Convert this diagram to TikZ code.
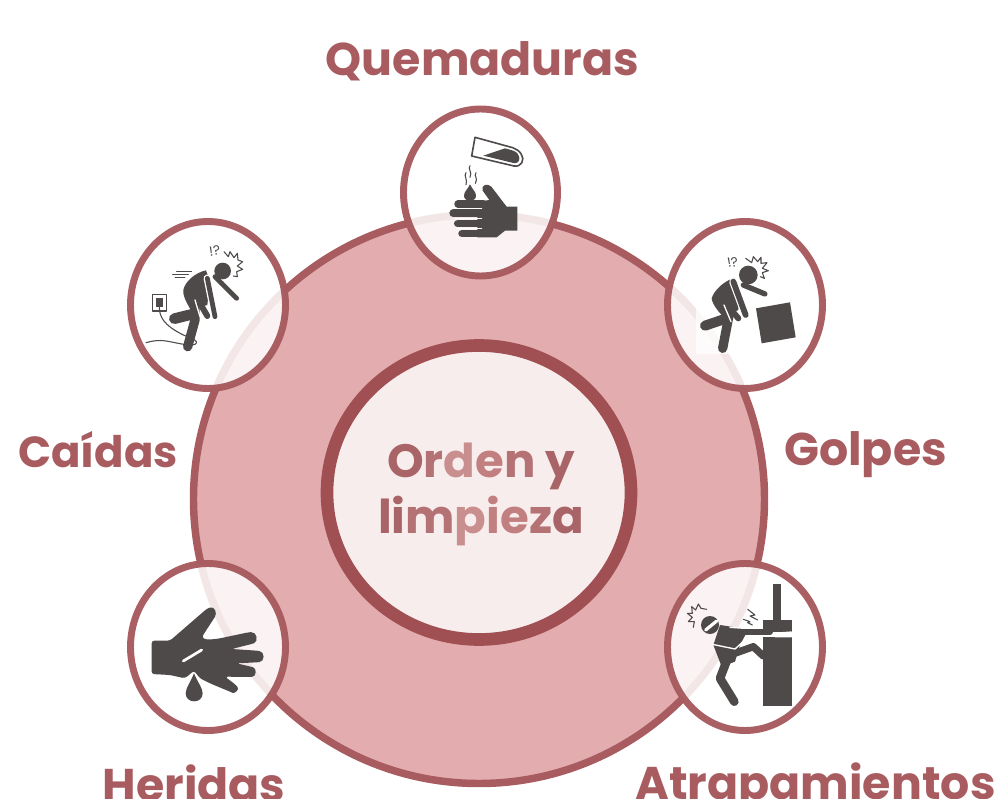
\documentclass[tikz,border=0pt]{standalone}
\usepackage{fontspec}
\setmainfont{Poppins}
\usetikzlibrary{calc}
\definecolor{ringc}{HTML}{A85C60}
\definecolor{bigfill}{HTML}{E3ADAF}
\definecolor{darkring}{HTML}{A04F52}
\definecolor{innerfill}{HTML}{F8EDED}
\definecolor{icon}{HTML}{4F4A4A}
\definecolor{labelc}{HTML}{A85C60}
\definecolor{ga}{HTML}{A96467}
\definecolor{gb}{HTML}{B57275}
\definecolor{gc}{HTML}{C98E8E}
\definecolor{gd}{HTML}{C27F80}
\tikzset{
 x=0.75pt,y=-0.75pt,
 lab/.style={font=\bfseries\fontsize{34.4}{40}\selectfont,text=labelc,inner sep=0pt},
 bubble/.style={draw=ringc,line width=5.2pt,fill=white,fill opacity=.85,draw opacity=.98},
 limb/.style={draw=icon,line cap=round,line join=round},
 thin/.style={draw=icon,line width=.9pt,line cap=round,line join=round,fill=none},
 gap/.style={draw=white,line cap=round,line join=round},
 zoomA/.style={shift={(#1)},x=0.25pt,y=-0.25pt},
}
\begin{document}
\begin{tikzpicture}
\useasboundingbox (0,0) rectangle (997,799);
\clip (0,0) rectangle (997,799);
% big disc
\draw[draw=ringc,line width=5.6pt,fill=bigfill] (479,499) ellipse [x radius=285.5,y radius=284.5];
% centre disc
\draw[draw=darkring,line width=9.5pt,fill=innerfill] (479,492.5) ellipse [x radius=152,y radius=147];
\node[lab,align=center,font=\bfseries\fontsize{35}{42}\selectfont] (centre) at (481,494) {\textcolor{ga}{O}\textcolor{gb}{r}\textcolor{gc}{d}\textcolor{gd}{e}\textcolor{gb}{n} \textcolor{ga}{y}\\\textcolor{ga}{l}\textcolor{ga}{i}\textcolor{gb}{m}\textcolor{gc}{p}\textcolor{gd}{i}\textcolor{gd}{e}\textcolor{gb}{z}\textcolor{ga}{a}};
% bubbles
\draw[bubble] (480.5,192.5) ellipse [x radius=77,y radius=83.5];
\draw[bubble] (208,305) ellipse [x radius=77.5,y radius=83.5];
\draw[bubble] (745,305) ellipse [x radius=77.5,y radius=83.5];
\draw[bubble] (745,647) ellipse [x radius=77.5,y radius=83.5];
\draw[bubble] (208,647) ellipse [x radius=77.5,y radius=83.5];
% labels
\node[lab] (q) at (482.5,61) {Quemaduras};
\node[lab,font=\bfseries\fontsize{32.6}{40}\selectfont] (c) at (98,450) {Caídas};
\node[lab] (g) at (865.5,455) {Golpes};
\node[lab] (h) at (194,783) {Heridas};
\node[lab] (a) at (815.5,787) {Atrapamientos};
% ---- burn icon
\begin{scope}[zoomA={390,100}]
 \draw[thin,line width=1.2pt] (255,112) -- (245,168) -- (372,198) .. controls (395,202) and (405,178) .. (394,163) .. controls (388,152) and (378,147) .. (368,143) -- cycle;
 \fill[icon] (280,167) -- (345,145) -- (370,152) .. controls (394,160) and (394,194) .. (370,189) -- cycle;
 \fill[icon] (240,253) .. controls (232,270) and (222,275) .. (222,287) .. controls (222,308) and (258,308) .. (258,287) .. controls (258,275) and (248,270) .. (240,253) -- cycle;
 \draw[thin,line width=.8pt] (240,197) .. controls (232,207) and (248,215) .. (240,232);
 \draw[thin,line width=.8pt] (228,218) .. controls (220,228) and (234,238) .. (228,254);
 \draw[thin,line width=.8pt] (258,218) .. controls (250,228) and (266,235) .. (256,250);
 % hand
 \fill[icon] (262,305) -- (298,300) -- (278,272) .. controls (272,255) and (292,248) .. (304,260) -- (350,320) -- (382,320) -- (382,392) -- (345,392) -- (320,412) -- (262,412) -- cycle;
 \draw[limb,line width=5.6pt] (204,312) -- (280,312);
 \draw[limb,line width=6pt] (190,340) -- (280,340);
 \draw[limb,line width=5.6pt] (203,371) -- (280,371);
 \draw[limb,line width=5.6pt] (216,401) -- (280,401);
 \draw[gap,line width=.9pt] (200,325.5) -- (275,325.5);
 \draw[gap,line width=.9pt] (195,355.5) -- (275,355.5);
 \draw[gap,line width=.9pt] (200,385.5) -- (275,385.5);
\end{scope}
% ---- fall icon
\begin{scope}[zoomA={120,210}]
 \fill[icon] (308,183) circle[radius=25];
 \draw[limb,line width=8pt] (163,326) -- (220,312);
 \fill[icon] (258,181) .. controls (225,188) and (195,215) .. (190,240) .. controls (188,262) and (205,285) .. (212,300) -- (262,285) -- (270,215) -- cycle;
 \draw[limb,line width=7pt] (225,285) -- (225,330) -- (203,410);
 \draw[gap,line width=1pt] (225,270) -- (240,320);
 \draw[limb,line width=4.5pt] (240,280) -- (262,318);
 \draw[gap,line width=5.6pt] (262,205) -- (285,320);
 \draw[limb,line width=3.6pt] (262,205) -- (285,320);
 \draw[gap,line width=1pt] (262,185) .. controls (280,190) and (285,205) .. (295,212);
 \draw[limb,line width=3.6pt] (305,220) -- (350,265);
 \draw[limb,line width=3.6pt] (285,200) -- (305,220);
 \draw[thin] (98,254) rectangle (140,303);
 \fill[icon] (108,265) rectangle (128,290);
 \draw[thin,line width=.8pt] (118,290) .. controls (118,320) and (130,345) .. (190,375) .. controls (215,385) and (240,392) .. (225,403) .. controls (205,410) and (160,395) .. (130,392) .. controls (105,390) and (90,395) .. (78,398);
 \draw[thin,line width=.7pt] (170,183) -- (215,183) (158,193) -- (205,193) (165,203) -- (195,203);
 \draw[thin,line width=.8pt] (312,125) -- (325,140) -- (330,125) -- (342,143) -- (352,130) -- (354,150) -- (368,155) -- (352,168) -- (368,178) -- (350,185) -- (352,200) -- (340,198);
 \node[font=\fontsize{10}{10}\selectfont,text=icon,rotate=8,inner sep=0pt] (f1) at (284,122) {!?};
\end{scope}
% ---- hit icon
\begin{scope}[zoomA={655,210}]
 \fill[white,opacity=.72] (123,280) rectangle (240,432);
 \fill[icon] (280,195) circle[radius=28];
 \draw[limb,line width=7.5pt] (150,347) -- (215,325);
 \fill[icon] (238,203) .. controls (205,215) and (178,240) .. (170,265) .. controls (172,285) and (195,310) .. (205,320) -- (250,300) -- (255,240) -- cycle;
 \draw[limb,line width=7pt] (225,300) -- (203,415);
 \draw[gap,line width=1pt] (207,285) -- (228,335);
 \draw[limb,line width=4.5pt] (222,292) -- (250,325);
 \draw[gap,line width=6.2pt] (235,215) -- (272,315);
 \draw[limb,line width=4.4pt] (235,215) -- (272,315);
 \draw[limb,line width=4pt] (265,225) -- (330,252);
 \fill[icon] (303,295) -- (405,277) -- (422,382) -- (320,400) -- cycle;
 \draw[thin,line width=.8pt] (272,145) -- (290,158) -- (295,140) -- (308,155) -- (318,142) -- (318,160) -- (336,158) -- (322,175) -- (340,182) -- (322,188) -- (328,205) -- (316,200);
 \node[font=\fontsize{10}{10}\selectfont,text=icon,rotate=10,inner sep=0pt] (g1) at (233,157) {!?};
\end{scope}
% ---- trap icon
\begin{scope}[zoomA={655,550}]
 \fill[icon] (355,102) rectangle (378,215);
 \fill[icon] (325,210) rectangle (410,245);
 \fill[icon] (325,262) rectangle (410,468);
 \fill[white] (345,249) -- (410,244) -- (410,262) -- (360,262) -- cycle;
 \fill[icon] (165,225) circle[radius=27];
 \draw[gap,line width=2.4pt] (152,240) -- (185,213);
 \fill[icon] (195,225) -- (280,238) -- (255,285) -- (240,335) -- (200,350) -- (175,285) -- cycle;
 \draw[limb,line width=6.5pt] (218,325) -- (195,385) -- (238,455);
 \draw[limb,line width=5.5pt] (225,315) -- (295,290) -- (325,318);
 \draw[limb,line width=4.5pt] (215,245) -- (285,245) -- (345,245);
 \draw[gap,line width=1pt] (172,283) -- (240,297) -- (285,256);
 \draw[gap,line width=1pt] (225,232) -- (270,235);
 \draw[thin,line width=.8pt] (155,178) -- (138,175) -- (130,162) -- (122,180) -- (110,170) -- (112,190) -- (97,190) -- (112,202) -- (100,215) -- (118,215) -- (115,232);
 \draw[thin,line width=.8pt] (278,178) -- (300,195) -- (285,198) -- (308,210);
 \draw[thin,line width=.8pt] (265,208) -- (285,215) -- (278,218) -- (292,225);
\end{scope}
% ---- cut icon
\begin{scope}[zoomA={120,550}]
 \fill[icon,rounded corners=2pt] (95,272) -- (150,272) -- (262,175) .. controls (285,168) and (292,190) .. (280,208) -- (245,262) .. controls (260,270) and (280,268) .. (300,265) -- (385,247) .. controls (412,245) and (415,275) .. (395,282) -- (335,297) -- (410,302) .. controls (435,305) and (435,335) .. (410,337) -- (350,340) -- (392,350) .. controls (410,355) and (410,380) .. (388,381) -- (315,380) -- (348,405) .. controls (358,418) and (345,432) .. (330,425) -- (270,400) -- (240,385) -- (222,362) -- (195,385) -- (150,375) -- (95,372) -- cycle;
 \fill[icon] (222,370) .. controls (212,395) and (197,415) .. (197,430) .. controls (197,462) and (248,462) .. (248,430) .. controls (248,415) and (232,395) .. (222,370) -- cycle;
 \draw[gap,line width=2pt] (190,333) -- (245,300);
\end{scope}
\end{tikzpicture}
\end{document}
